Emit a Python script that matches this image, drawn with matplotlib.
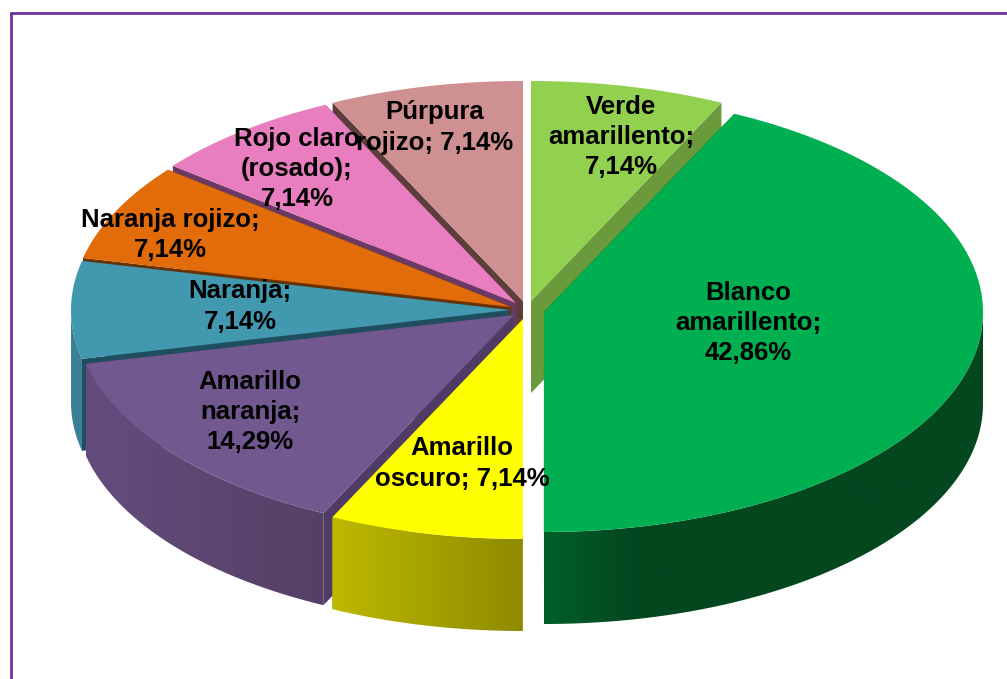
import numpy as np
import matplotlib
matplotlib.use('Agg')
import matplotlib.pyplot as plt
from matplotlib.colors import to_rgb
from matplotlib.patches import Polygon

# datos del grafico (desde las 12 en sentido horario)
categorias = ['Verde\namarillento;\n{}', 'Blanco\namarillento;\n{}', 'Amarillo\noscuro; {}',
              'Amarillo\nnaranja;\n{}', 'Naranja;\n{}', 'Naranja rojizo;\n{}',
              'Rojo claro\n(rosado);\n{}', 'Púrpura\nrojizo; {}']
valores = [7.14, 42.86, 7.14, 14.29, 7.14, 7.14, 7.14, 7.14]

# estilo de cada porcion
colores = ['#92D050', '#00AF50', '#FFFF00', '#71588F', '#4198AF', '#E26B0A', '#E87DBF', '#CE9090']
colores_corte = ['#6A9A3B', '#024822', '#8F8A00', '#503A66', '#1F4E5F', '#6B3200', '#6B3A63', '#5E3D3D']
pared_izq = ['#6A9A3B', '#005F2B', '#BDB900', '#654C7E', '#3A8098', '#6B3200', '#6B3A63', '#5E3D3D']
pared_der = ['#6A9A3B', '#03471F', '#8F8A00', '#554065', '#3A8098', '#6B3200', '#6B3A63', '#5E3D3D']
vertices = [(531, 301), (544, 312), (523, 319), (514, 315), (510, 310), (511, 307), (516, 303), (523, 301)]
pos_texto = [(621, 137), (748, 323), (462, 463.5), (250, 412), (240, 306.5), (170, 235), (297, 169), (435, 127.5)]
orden = [7, 0, 6, 5, 4, 1, 3, 2]  # de atras hacia adelante

rx, ry = 439, 220
alto = 92

fig = plt.figure(figsize=(10.07, 6.79), dpi=100)
ax = fig.add_axes([0, 0, 1, 1])


def punto(v, t):
    return v[0] + rx * np.sin(t), v[1] - ry * np.cos(t)


limites = np.radians(np.cumsum([0] + valores) * 360 / sum(valores))

for i in orden:
    v = vertices[i]
    t0, t1 = limites[i], limites[i + 1]
    ts = np.linspace(t0, t1, 100)
    xs, ys = punto(v, ts)
    z = orden.index(i) * 3 + 1

    # cortes radiales
    for t in (t0, t1):
        px, py = punto(v, t)
        ax.fill([v[0], px, px, v[0]], [v[1], py, py + alto, v[1] + alto],
                color=colores_corte[i], lw=0, zorder=z)

    # pared exterior con degradado, recortada a la forma de la pared
    a, b = max(t0, np.pi / 2), min(t1, 3 * np.pi / 2)
    if a < b:
        tp = np.linspace(a, b, 90)
        xp, yp = punto(v, tp)
        poli = Polygon(np.c_[np.r_[xp, xp[::-1]], np.r_[yp, yp[::-1] + alto]],
                       closed=True, transform=ax.transData, fc='none', ec='none')
        ax.add_patch(poli)
        x0, x1 = xp.min(), xp.max()
        xg = np.arange(x0, x1 + 1)
        ancho = 90 if i == 1 else x1 - x0
        fr = np.clip((xg - x0) / ancho, 0, 1)[:, None]
        grad = np.array(to_rgb(pared_izq[i])) * (1 - fr) + np.array(to_rgb(pared_der[i])) * fr
        im = ax.imshow(grad[None, :, :], extent=[x0, x1, yp.max() + alto, yp.min()],
                       aspect='auto', interpolation='bilinear', zorder=z + 1)
        im.set_clip_path(poli)

    # cara superior
    ax.fill(np.r_[v[0], xs], np.r_[v[1], ys], color=colores[i], lw=0, zorder=z + 2)

ax.set_xlim(0, 1007)
ax.set_ylim(679, 0)
ax.axis('off')

# etiquetas
for i in range(len(valores)):
    txt = categorias[i].format(f'{valores[i]:.2f}'.replace('.', ',') + '%')
    ax.text(pos_texto[i][0], pos_texto[i][1], txt, ha='center', va='center',
            family='Liberation Sans', weight='bold', fontsize=18.5, linespacing=1.32,
            color='black', zorder=50)

# marco
ax.plot([10.5, 10.5], [679, 11.5], color='#7030A0', lw=2, zorder=60, solid_capstyle='butt')
ax.plot([9.5, 1007], [12.5, 12.5], color='#7030A0', lw=2, zorder=60, solid_capstyle='butt')

fig.savefig('out.png', dpi=100)
